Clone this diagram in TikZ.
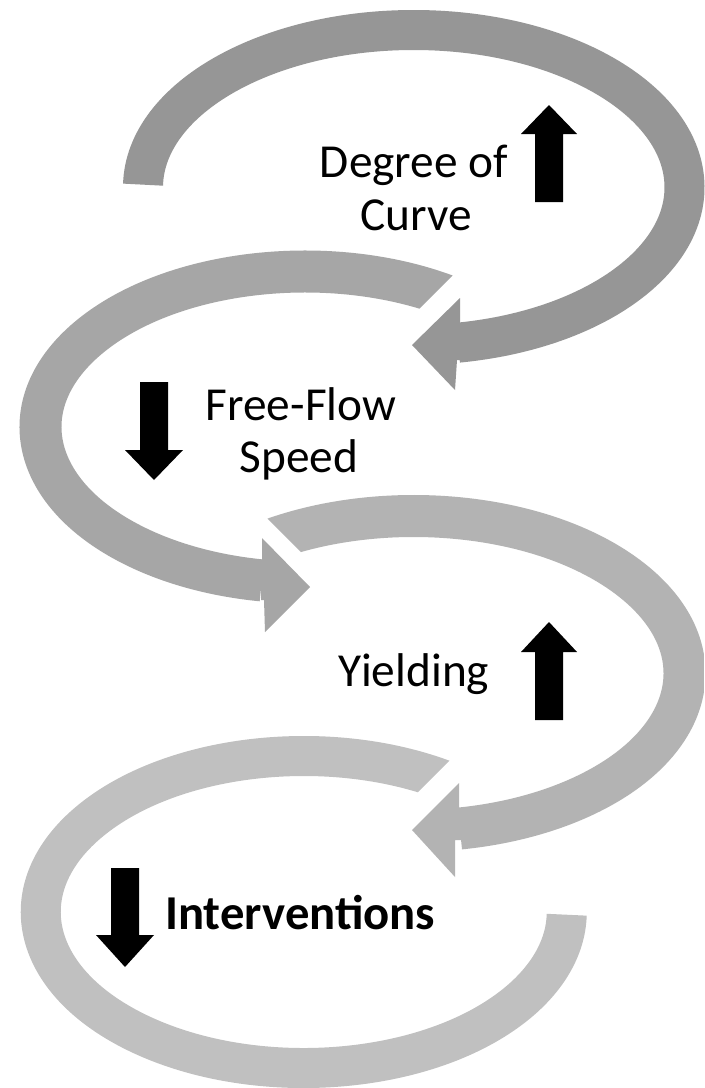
\documentclass[tikz,border=0pt]{standalone}
\usepackage{fontspec}
\setmainfont{Carlito}
\usetikzlibrary{calc}
\definecolor{aone}{RGB}{150,150,150}
\definecolor{atwo}{RGB}{166,166,166}
\definecolor{athree}{RGB}{179,179,179}
\definecolor{afour}{RGB}{192,192,192}
\begin{document}
\begin{tikzpicture}[x=0.75pt,y=-0.75pt,
  band/.style={line width=30pt},
  bandw/.style={line width=31.5pt},
  lbl/.style={anchor=base,inner sep=0pt,font=\fontsize{35.5}{42}\selectfont}]
\useasboundingbox (0,0) rectangle (704,1088);
\fill[white] (0,0) rectangle (704,1088);

% arrow 4 (lightest, bottom ring)
\begin{scope}
  \clip (0,0) -- (704,0) -- (704,506) -- (380,830) -- (704,830) -- (704,1088) -- (0,1088) -- cycle;
  \draw[band,afour] ($(303.75,912)+(308:263 and 156)$) arc[start angle=308,end angle=1,x radius=263,y radius=156];
\end{scope}

% arrow 3
\begin{scope}
  \clip (0,0) -- (704,0) -- (704,1088) -- (0,1088) -- (0,560) -- (309,560) -- (0,251) -- cycle;
  \draw[bandw,athree] ($(413.75,673.4)+(232:270.75 and 157.4)$) arc[start angle=232,end angle=440.2,x radius=270.75,y radius=157.4];
\end{scope}
\fill[athree] (459,783) -- (412,830) -- (455,877) -- (455,840) -- (461,840) -- (461,810) -- (459,810) -- cycle;

% arrow 2
\begin{scope}
  \clip (0,0) -- (704,0) -- (704,24) -- (398,330) -- (704,330) -- (704,1088) -- (0,1088) -- cycle;
  \draw[bandw,atwo] ($(305,427)+(308:264.5 and 155.5)$) arc[start angle=308,end angle=99.4,x radius=264.5,y radius=155.5];
\end{scope}
\fill[atwo] (262,538) -- (310,587) -- (265,632) -- (264,600) -- (261,600) -- (261,560) -- (262,560) -- cycle;

% arrow 1 (darkest, top)
\draw[band,aone] ($(413.75,187.4)+(181:270.75 and 157.4)$) arc[start angle=181,end angle=440.6,x radius=270.75,y radius=157.4];
\fill[aone] (460,298) -- (412,345) -- (455,390) -- (457,360) -- (460,360) -- (460,325) -- cycle;

% black indicator arrows
\fill[black] (535,202) -- (535,134) -- (521,134) -- (549,105) -- (577,134) -- (563,134) -- (563,202) -- cycle;
\fill[black] (140,382) -- (168,382) -- (168,450) -- (183,450) -- (154,480) -- (125,450) -- (140,450) -- cycle;
\fill[black] (535,720) -- (535,652) -- (521,652) -- (549,622) -- (577,652) -- (563,652) -- (563,720) -- cycle;
\fill[black] (111,868) -- (139,868) -- (139,935) -- (154,935) -- (125,967) -- (96,935) -- (111,935) -- cycle;

% labels
\node[lbl] (deg) at (414,177) {Degree of};
\node[lbl] (cur) at (416,230) {Curve};
\node[lbl] (ffl) at (301,420) {Free-Flow};
\node[lbl] (spd) at (299,472) {Speed};
\node[lbl] (yld) at (414,686) {Yielding};
\node[lbl,anchor=base west,font=\fontsize{36.5}{42}\selectfont\bfseries] (itv) at (165,929) {Interventions};
\end{tikzpicture}
\end{document}
